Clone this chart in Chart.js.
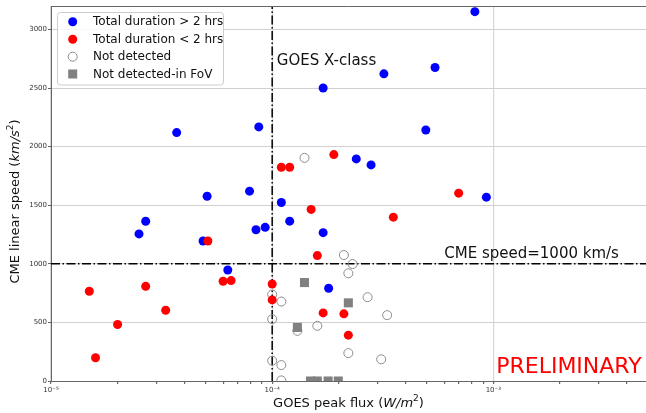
<!DOCTYPE html>
<html>
<head>
<meta charset="utf-8">
<script src="https://cdn.jsdelivr.net/npm/chart.js@4.4.0/dist/chart.umd.min.js"></script>
<style>
    body { margin: 0; background: #fff; }
    #wrap { width: 646px; height: 413px; position: relative; }
</style>
</head>
<body>
<div id="wrap"><canvas id="cmeChart"></canvas></div>
<script>
// GOES peak flux vs CME linear speed

// Total duration > 2 hrs
const longFlux = [2.5e-5, 2.68e-5, 3.7e-5, 5.08e-5, 4.87e-5, 6.3e-5, 7.9e-5, 8.7e-5, 8.45e-5, 9.3e-5, 1.1e-4, 1.2e-4, 1.7e-4, 2.4e-4, 2.8e-4, 1.8e-4, 1.7e-4, 3.2e-4, 5.45e-4, 8.25e-4, 4.95e-4, 9.3e-4];
const longSpeed = [1255, 1363, 2120, 1577, 1195, 947, 1620, 2168, 1291, 1311, 1523, 1364, 1266, 1895, 1844, 791, 2500, 2621, 2675, 3152, 2142, 1569];

// Total duration < 2 hrs
const shortFlux = [1.49e-5, 1.59e-5, 2.0e-5, 2.68e-5, 3.3e-5, 5.12e-5, 6.0e-5, 6.52e-5, 1e-4, 1e-4, 1.1e-4, 1.2e-4, 1.9e-4, 1.5e-4, 3.53e-4, 1.6e-4, 1.7e-4, 2.11e-4, 2.21e-4, 6.97e-4];
const shortSpeed = [766, 198, 482, 808, 604, 1195, 851, 857, 828, 692, 1824, 1824, 1932, 1464, 1398, 1070, 581, 573, 391, 1603];

// Not detected
const noDetFlux = [1.4e-4, 2.11e-4, 2.31e-4, 2.21e-4, 1e-4, 1.1e-4, 2.7e-4, 3.31e-4, 1e-4, 1.3e-4, 1.6e-4, 2.21e-4, 3.11e-4, 1e-4, 1.1e-4, 1.1e-4];
const noDetSpeed = [1904, 1075, 998, 919, 738, 678, 715, 562, 528, 428, 471, 238, 185, 173, 136, 5];

// Not detected-in FoV
const fovFlux = [1.4e-4, 2.21e-4, 1.3e-4, 1.49e-4, 1.6e-4, 1.79e-4, 1.99e-4];
const fovSpeed = [840, 667, 457, 0, 0, 0, 0];

const legendLabels = ["Total duration > 2 hrs", "Total duration < 2 hrs", "Not detected", "Not detected-in FoV"];
const xDecades = [1e-5, 1e-4, 1e-3];
const yTicks = [0, 500, 1000, 1500, 2000, 2500, 3000];
const xMin = 1e-5, xMax = 4.9e-3, yMin = 0, yMax = 3200;
const xClassFlux = 1e-4;   // GOES X-class threshold
const speedRef = 1000;     // CME speed = 1000 km/s

const FONT = "'DejaVu Sans', sans-serif";

function toPoints(xs, ys) {
    return xs.map((x, i) => ({ x: x, y: ys[i] }));
}

function supLabel(v) {
    const map = { "-": "\u207B", "0": "\u2070", "1": "\u00B9", "2": "\u00B2", "3": "\u00B3", "4": "\u2074", "5": "\u2075", "6": "\u2076", "7": "\u2077", "8": "\u2078", "9": "\u2079" };
    const e = String(Math.round(Math.log10(v)));
    return "10" + e.split("").map(c => map[c]).join("");
}

function isDecade(v) {
    const l = Math.log10(v);
    return Math.abs(l - Math.round(l)) < 1e-6;
}

// text with normal / italic / superscript pieces
function drawRich(ctx, parts, x, y) {
    let total = 0;
    parts.forEach(p => { ctx.font = p.font; total += ctx.measureText(p.t).width; });
    let cx = x - total / 2;
    parts.forEach(p => {
        ctx.font = p.font;
        ctx.fillText(p.t, cx, y + (p.dy || 0));
        cx += ctx.measureText(p.t).width;
    });
}

const extras = {
    id: "extras",
    afterDraw(chart) {
        const ctx = chart.ctx;
        const xs = chart.scales.x, ys = chart.scales.y;
        const area = chart.chartArea;
        ctx.save();

        // top spine
        ctx.strokeStyle = "#666";
        ctx.lineWidth = 1;
        ctx.beginPath();
        ctx.moveTo(area.left, area.top + 0.5);
        ctx.lineTo(area.right, area.top + 0.5);
        ctx.stroke();

        // annotations
        ctx.fillStyle = "#111";
        ctx.textAlign = "left";
        ctx.textBaseline = "alphabetic";
        ctx.font = "15px " + FONT;
        ctx.fillText("GOES X-class", xs.getPixelForValue(1.05e-4), ys.getPixelForValue(2700));
        ctx.fillText("CME speed=1000 km/s", xs.getPixelForValue(6e-4), ys.getPixelForValue(1050));
        ctx.fillStyle = "#ff0000";
        ctx.font = "22px " + FONT;
        ctx.fillText("PRELIMINARY", xs.getPixelForValue(1.03e-3), ys.getPixelForValue(70));

        // axis titles
        ctx.fillStyle = "#111";
        ctx.textBaseline = "middle";
        const norm = "13px " + FONT, ital = "italic 13px " + FONT, sup = "9px " + FONT;
        drawRich(ctx, [
            { t: "GOES peak flux (", font: norm },
            { t: "W/m", font: ital },
            { t: "2", font: sup, dy: -5 },
            { t: ")", font: norm }
        ], (area.left + area.right) / 2, 404);

        ctx.save();
        ctx.translate(16, (area.top + area.bottom) / 2 + 8);
        ctx.rotate(-Math.PI / 2);
        drawRich(ctx, [
            { t: "CME linear speed (", font: norm },
            { t: "km/s", font: ital },
            { t: "2", font: sup, dy: -5 },
            { t: ")", font: norm }
        ], 0, 0);
        ctx.restore();

        // legend box
        const lx = 57, ly = 12.5, lw = 166, lh = 72.5;
        ctx.fillStyle = "rgba(255,255,255,0.85)";
        ctx.strokeStyle = "#cccccc";
        ctx.beginPath();
        ctx.roundRect(lx + 0.5, ly, lw, lh, 3);
        ctx.fill();
        ctx.stroke();

        const rows = [21.7, 39.3, 56.7, 74];
        const mx = 72.7;
        chart.data.datasets.slice(0, 4).forEach((ds, i) => {
            const y = rows[i];
            ctx.beginPath();
            if (ds.pointStyle === "rect") {
                ctx.fillStyle = ds.backgroundColor;
                ctx.fillRect(mx - 4.5, y - 4.5, 9, 9);
            } else {
                ctx.arc(mx, y, ds.pointRadius, 0, Math.PI * 2);
                if (ds.backgroundColor !== "transparent") {
                    ctx.fillStyle = ds.backgroundColor;
                    ctx.fill();
                } else {
                    ctx.strokeStyle = ds.borderColor;
                    ctx.lineWidth = ds.borderWidth;
                    ctx.stroke();
                }
            }
            ctx.fillStyle = "#111";
            ctx.font = "12px " + FONT;
            ctx.textAlign = "left";
            ctx.textBaseline = "middle";
            ctx.fillText(legendLabels[i], 93, y + 0.5);
        });

        ctx.restore();
    }
};

new Chart(document.getElementById("cmeChart"), {
    type: "scatter",
    data: {
        datasets: [
            {
                label: legendLabels[0],
                data: toPoints(longFlux, longSpeed),
                backgroundColor: "#0000ff",
                borderColor: "#0000ff",
                borderWidth: 0,
                pointRadius: 4.5,
                order: 3,
                clip: 0,
            },
            {
                label: legendLabels[1],
                data: toPoints(shortFlux, shortSpeed),
                backgroundColor: "#ff0000",
                borderColor: "#ff0000",
                borderWidth: 0,
                pointRadius: 4.5,
                order: 2,
                clip: 0,
            },
            {
                label: legendLabels[2],
                data: toPoints(noDetFlux, noDetSpeed),
                backgroundColor: "transparent",
                borderColor: "#8c8c8c",
                borderWidth: 1,
                pointRadius: 4.5,
                order: 4,
                clip: 0,
            },
            {
                label: legendLabels[3],
                data: toPoints(fovFlux, fovSpeed),
                backgroundColor: "#808080",
                borderColor: "#808080",
                borderWidth: 0,
                pointStyle: "rect",
                pointRadius: 6.4,
                order: 1,
                clip: 0,
            },
            {
                type: "line",
                data: [{ x: xClassFlux, y: yMin }, { x: xClassFlux, y: yMax }],
                borderColor: "#000",
                borderWidth: 1.5,
                borderDash: [9, 2.5, 1.5, 2.5],
                pointRadius: 0,
                order: 5,
            },
            {
                type: "line",
                data: [{ x: xMin, y: speedRef }, { x: xMax, y: speedRef }],
                borderColor: "#000",
                borderWidth: 1.5,
                borderDash: [9, 2.5, 1.5, 2.5],
                pointRadius: 0,
                order: 5,
            },
        ],
    },
    options: {
        responsive: true,
        maintainAspectRatio: false,
        animation: false,
        events: [],
        layout: {
            autoPadding: false,
            padding: { top: 6, right: 0, left: 0, bottom: 0 },
        },
        plugins: {
            legend: { display: false },
            tooltip: { enabled: false },
        },
        scales: {
            x: {
                type: "logarithmic",
                min: xMin,
                max: xMax,
                afterBuildTicks: function (axis) {
                    const ticks = [];
                    xDecades.forEach(d => {
                        for (let m = 1; m <= 9; m++) {
                            const v = d * m;
                            if (v <= xMax * 1.0001) ticks.push({ value: v });
                        }
                    });
                    axis.ticks = ticks;
                },
                afterFit: function (axis) {
                    axis.height = 32;
                    axis.paddingLeft = 0;
                    axis.paddingRight = 0;
                },
                ticks: {
                    autoSkip: false,
                    maxRotation: 0,
                    padding: 2,
                    color: "#333",
                    font: { family: FONT, size: 7 },
                    callback: function (value) {
                        return isDecade(value) ? supLabel(value) : "";
                    },
                },
                grid: {
                    color: ctx => (ctx.tick && isDecade(ctx.tick.value)) ? "#d6d6d6" : "transparent",
                    tickColor: "#666",
                    tickLength: 3,
                    lineWidth: 1.2,
                },
                border: { color: "#666", width: 1 },
            },
            y: {
                min: yMin,
                max: yMax,
                afterBuildTicks: function (axis) {
                    axis.ticks = yTicks.map(v => ({ value: v }));
                },
                afterFit: function (axis) {
                    axis.width = 51;
                    axis.paddingTop = 0;
                    axis.paddingBottom = 0;
                },
                ticks: {
                    padding: 1,
                    color: "#333",
                    font: { family: FONT, size: 7 },
                    callback: function (value) {
                        return String(value);
                    },
                },
                grid: {
                    color: "#d0d0d0",
                    tickColor: "#666",
                    tickLength: 3,
                },
                border: { color: "#666", width: 1 },
            },
        },
    },
    plugins: [extras],
});
</script>
</body>
</html>
